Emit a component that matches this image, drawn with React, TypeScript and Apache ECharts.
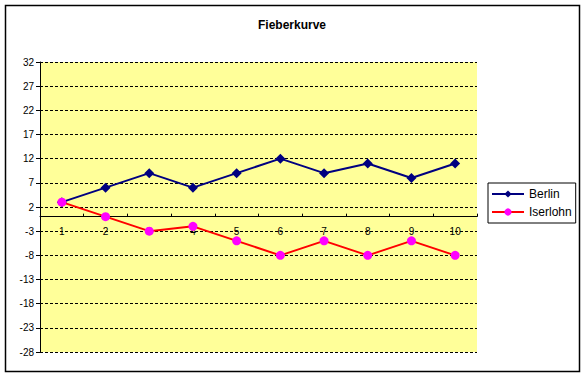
import React, { useEffect, useRef } from "react";
import * as echarts from "echarts";

const TITLE = "Fieberkurve";
const CATEGORIES = ["1", "2", "3", "4", "5", "6", "7", "8", "9", "10"];
const BERLIN = [3, 6, 9, 6, 9, 12, 9, 11, 8, 11];
const ISERLOHN = [3, 0, -3, -2, -5, -8, -5, -8, -5, -8];
const Y_TICKS = [-28, -23, -18, -13, -8, -3, 2, 7, 12, 17, 22, 27, 32];
const Y_MIN = -28;
const Y_MAX = 32;

const FONT = "Liberation Sans, Arial, sans-serif";
const GRID_TOP = 62;
const GRID_HEIGHT = 290;

export default function App() {
  const ref = useRef<HTMLDivElement>(null);
  useEffect(() => {
    document.body.style.margin = "0";
    const chart = echarts.init(ref.current!, null, { renderer: "svg" });
    // distance (px) from plot bottom to the value-0 line, so the category axis sits on zero
    const zeroOffset = (GRID_HEIGHT * (0 - Y_MIN)) / (Y_MAX - Y_MIN);
    chart.setOption({
      animation: false,
      backgroundColor: "#ffffff",
      textStyle: { fontFamily: FONT },
      title: {
        text: TITLE,
        left: "center",
        top: 14,
        textStyle: { fontSize: 12, fontWeight: "bold", color: "#000", fontFamily: FONT },
      },
      graphic: [
        {
          type: "rect",
          shape: { x: 5.5, y: 5.5, width: 574, height: 366 },
          style: { fill: "none", stroke: "#000", lineWidth: 1.5 },
          z: 100,
          silent: true,
        },
      ],
      legend: {
        orient: "vertical",
        left: 488,
        top: 183,
        padding: [5, 4, 5, 3],
        itemGap: 6,
        itemWidth: 32,
        itemHeight: 9,
        itemTextGap: 3,
        borderColor: "#000",
        borderWidth: 1,
        backgroundColor: "#fff",
        textStyle: { fontSize: 12, color: "#000", fontFamily: FONT },
        data: ["Berlin", "Iserlohn"],
      },
      grid: {
        left: 40,
        top: GRID_TOP,
        width: 437,
        height: GRID_HEIGHT,
        show: true,
        backgroundColor: "#ffff99",
        borderWidth: 0,
      },
      xAxis: {
        type: "category",
        data: CATEGORIES,
        boundaryGap: true,
        offset: -zeroOffset,
        axisLine: { onZero: false, lineStyle: { color: "#000", width: 1 } },
        axisTick: { show: true, inside: true, length: 3, lineStyle: { color: "#000" } },
        axisLabel: { color: "#000", fontSize: 10, margin: 10, fontFamily: FONT },
        splitLine: { show: false },
      },
      yAxis: {
        type: "value",
        min: Y_MIN,
        max: Y_MAX,
        axisLine: { show: true, onZero: false, lineStyle: { color: "#000", width: 1 } },
        axisTick: { show: true, length: 4, customValues: Y_TICKS, lineStyle: { color: "#000" } },
        axisLabel: { color: "#000", fontSize: 10, margin: 6, customValues: Y_TICKS, fontFamily: FONT },
        splitLine: { show: true, lineStyle: { color: "#000", type: [3, 2], width: 1 } },
      },
      series: [
        {
          name: "Berlin",
          type: "line",
          data: BERLIN,
          symbol: "diamond",
          symbolSize: 10,
          lineStyle: { color: "#000080", width: 2 },
          itemStyle: { color: "#000080" },
          z: 3,
        },
        {
          name: "Iserlohn",
          type: "line",
          data: ISERLOHN,
          symbol: "circle",
          symbolSize: 9,
          lineStyle: { color: "#ff0000", width: 2 },
          itemStyle: { color: "#ff00ff" },
          z: 4,
        },
      ],
    });
    return () => chart.dispose();
  }, []);
  return <div ref={ref} style={{ width: 584, height: 377 }} />;
}
